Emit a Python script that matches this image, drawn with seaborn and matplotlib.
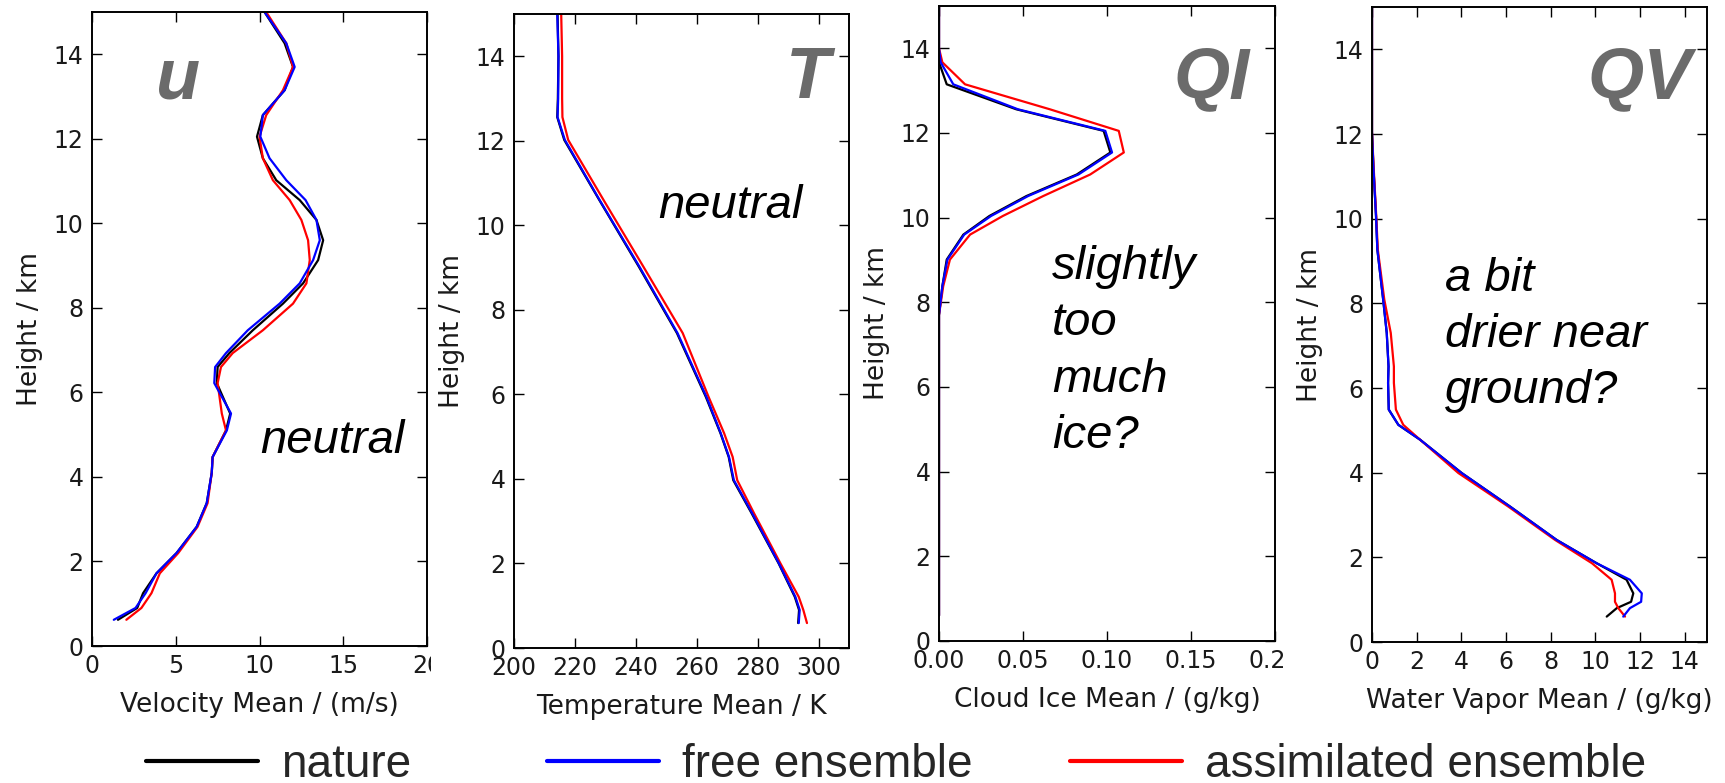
import matplotlib
matplotlib.use("Agg")
import matplotlib.pyplot as plt
import seaborn as sns
from matplotlib.lines import Line2D
from matplotlib.transforms import Bbox, TransformedBbox

# ---------------- profile data (height in km) ----------------
height_u = [0.62, 0.9, 1.25, 1.72, 2.2, 2.82, 3.38, 4.1, 4.47, 5.1, 5.5, 6.22, 6.6, 6.93,
            7.47, 8.1, 8.58, 9.13, 9.6, 10.08, 10.55, 11.02, 11.54, 12.05, 12.56, 13.15,
            13.7, 14.26, 15.0]
u_nature = [1.55, 2.7, 3.05, 3.85, 5.05, 6.25, 6.85, 7.15, 7.2, 8.0, 8.25, 7.45, 7.5, 8.2,
            9.6, 11.4, 12.6, 13.5, 13.8, 13.4, 12.4, 11.0, 10.2, 9.85, 10.2, 11.5,
            12.0, 11.5, 10.3]
u_free = [1.3, 2.6, 3.2, 3.85, 5.05, 6.25, 6.85, 7.15, 7.2, 8.05, 8.3, 7.3, 7.35, 8.0,
          9.3, 11.2, 12.4, 13.2, 13.6, 13.4, 12.75, 11.6, 10.6, 10.05, 10.2, 11.5,
          12.1, 11.6, 10.3]
u_assim = [2.05, 2.95, 3.55, 4.05, 5.15, 6.3, 6.9, 7.15, 7.2, 8.0, 7.75, 7.5, 7.7, 8.4,
           10.2, 12.0, 12.8, 13.0, 12.9, 12.5, 11.8, 10.8, 10.2, 10.0, 10.4, 11.4,
           12.0, 11.6, 10.4]

height_t = [0.59, 0.9, 1.21, 2.0, 3.19, 3.97, 4.52, 5.08, 5.94, 7.45, 9.02, 10.6, 12.02,
            12.56, 13.0, 14.0, 15.0]
t_nature = [293.3, 293.6, 292.2, 286.9, 278.0, 272.0, 270.5, 267.8, 263.0, 253.5, 241.0,
            228.0, 216.5, 214.2, 214.4, 214.6, 214.3]
t_free = [293.5, 293.8, 292.4, 287.0, 278.2, 272.2, 270.6, 267.9, 263.2, 253.7, 241.2,
          228.1, 216.7, 214.3, 214.5, 214.6, 214.2]
t_assim = [296.2, 295.0, 293.5, 287.5, 278.8, 273.3, 271.8, 269.0, 263.9, 255.4, 242.5,
           229.4, 217.8, 215.9, 215.8, 215.8, 215.5]

height_qi = [0.6, 7.7, 8.38, 9.01, 9.6, 10.04, 10.51, 11.02, 11.54, 12.05, 12.56, 13.15,
             13.67, 14.0, 15.0]
qi_nature = [0.0, 0.0, 0.002, 0.0046, 0.0145, 0.030, 0.052, 0.082, 0.102, 0.098, 0.046,
             0.0046, 0.0, 0.0, 0.0]
qi_free = [0.0, 0.0, 0.002, 0.005, 0.015, 0.031, 0.053, 0.083, 0.103, 0.099, 0.047,
           0.0085, 0.001, 0.0, 0.0]
qi_assim = [0.0, 0.0, 0.0025, 0.0065, 0.0185, 0.038, 0.062, 0.090, 0.110, 0.107, 0.066,
            0.0155, 0.002, 0.0, 0.0]

height_qv = [0.6, 0.8, 0.95, 1.15, 1.47, 1.86, 2.41, 3.2, 3.99, 4.78, 5.13, 5.49, 6.12,
             6.51, 7.3, 8.09, 9.27, 10.06, 11.25, 12.04, 13.0, 15.0]
qv_nature = [10.51, 10.96, 11.6, 11.7, 11.4, 10.06, 8.27, 6.18, 4.02, 2.15, 1.18, 0.75,
             0.72, 0.74, 0.66, 0.5, 0.24, 0.18, 0.06, 0.0, 0.0, 0.0]
qv_free = [11.25, 11.55, 12.05, 12.08, 11.55, 10.06, 8.27, 6.18, 4.02, 2.15, 1.18, 0.75,
           0.72, 0.74, 0.66, 0.5, 0.24, 0.18, 0.06, 0.0, 0.0, 0.0]
qv_assim = [11.33, 11.03, 10.88, 10.88, 10.73, 9.85, 8.2, 6.1, 3.87, 2.15, 1.40, 1.07,
            0.98, 0.98, 0.84, 0.55, 0.26, 0.19, 0.07, 0.0, 0.0, 0.0]

series_names = ["nature", "free ensemble", "assimilated ensemble"]
series_colors = ["#000000", "#0000ff", "#ff0000"]

xlabels = ["Velocity Mean / (m/s)", "Temperature Mean / K",
           "Cloud Ice Mean / (g/kg)", "Water Vapor Mean / (g/kg)"]
var_symbols = ["u", "T", "QI", "QV"]
notes = ["neutral", "neutral", "slightly\ntoo\nmuch\nice?", "a bit\ndrier near\nground?"]
xticks_list = [[0, 5, 10, 15, 20],
               [200, 220, 240, 260, 280, 300],
               [0.0, 0.05, 0.10, 0.15, 0.20],
               [0, 2, 4, 6, 8, 10, 12, 14]]
yticks = [0, 2, 4, 6, 8, 10, 12, 14]

# ---------------- style ----------------
sns.set_theme(style="white")
plt.rcParams.update({
    "font.family": ["DejaVu Sans"],
    "xtick.direction": "in", "ytick.direction": "in",
    "xtick.top": True, "ytick.right": True,
    "xtick.bottom": True, "ytick.left": True,
    "xtick.major.size": 7.5, "ytick.major.size": 7.5,
    "xtick.major.width": 1.0, "ytick.major.width": 1.0,
    "xtick.major.pad": 6, "ytick.major.pad": 6,
    "axes.edgecolor": "black", "axes.linewidth": 1.4,
    "xtick.color": "black", "ytick.color": "black",
    "xtick.labelcolor": "#1a1a1a", "ytick.labelcolor": "#1a1a1a",
    "xtick.labelsize": 17, "ytick.labelsize": 17,
    "axes.labelsize": 19, "axes.labelcolor": "#1a1a1a",
})

W, H = 1725, 783
fig = plt.figure(figsize=(W / 100, H / 100), dpi=100)
fig.patch.set_facecolor("white")

# axes boxes in pixels: left, bottom(from top), right, top(from top)
boxes_px = [(92, 646, 427, 12), (514, 648, 849, 14),
            (939, 641, 1275, 6), (1372, 642, 1707, 7)]
axes = []
for (l, b, r, t) in boxes_px:
    axes.append(fig.add_axes([l / W, (H - b) / H, (r - l) / W, (b - t) / H]))

profiles = [
    (height_u, [u_nature, u_free, u_assim]),
    (height_t, [t_nature, t_free, t_assim]),
    (height_qi, [qi_nature, qi_free, qi_assim]),
    (height_qv, [qv_nature, qv_free, qv_assim]),
]
xlims = [(0, 20), (200, 310), (0, 0.2), (0, 15)]
symbol_pos = [(0.257, 0.864, "center"), (0.943, 0.867, "right"),
              (0.926, 0.855, "right"), (0.955, 0.857, "right")]
# anchor = baseline of the last line of each note
note_pos = [(0.501, 0.304), (0.430, 0.678), (0.336, 0.304), (0.218, 0.376)]
# draw order: nature, assimilated, free (free on top)
draw_order = [0, 2, 1]

for i, ax in enumerate(axes):
    hgt, vals = profiles[i]
    for k in draw_order:
        sns.lineplot(x=vals[k], y=hgt, sort=False, estimator=None,
                     color=series_colors[k], linewidth=1.6, ax=ax)
    ax.set_xlim(*xlims[i])
    ax.set_ylim(0, 15)
    ax.set_xticks(xticks_list[i])
    ax.set_yticks(yticks)
    ax.set_xlabel(xlabels[i], labelpad=10)
    ax.set_ylabel("Height / km", labelpad=8)
    for sp in ax.spines.values():
        sp.set_visible(True)
        sp.set_color("black")

    sx, sy, ha = symbol_pos[i]
    ax.text(sx, sy, var_symbols[i], transform=ax.transAxes, ha=ha, va="baseline",
            fontsize=52, fontweight="bold", fontstyle="italic",
            family="Liberation Sans", color="#6b6b6b")
    nx, ny = note_pos[i]
    ax.text(nx, ny, notes[i], transform=ax.transAxes, ha="left", va="baseline",
            fontsize=34, fontstyle="italic", family="Liberation Sans",
            color="black", linespacing=1.36)

# the first and third panel images are cropped just right of the frame
for ax, xcut in [(axes[0], 431), (axes[2], 1283)]:
    clip = TransformedBbox(Bbox.from_extents(0, 0, xcut / W, 1), fig.transFigure)
    for tk in ax.xaxis.get_major_ticks():
        tk.label1.set_clip_on(True)
        tk.label1.set_clip_box(clip)

# legend row
legend_x = [146, 547, 1070]
for k in range(3):
    h = Line2D([], [], color=series_colors[k], linewidth=3)
    fig.legend([h], [series_names[k]], loc="center left",
               bbox_to_anchor=(legend_x[k] / W, (H - 765) / H),
               frameon=False, borderpad=0, borderaxespad=0,
               handlelength=2.45, handletextpad=0.5,
               prop={"family": "Liberation Sans", "size": 33})

fig.savefig("out.png", dpi=100, facecolor="white")
